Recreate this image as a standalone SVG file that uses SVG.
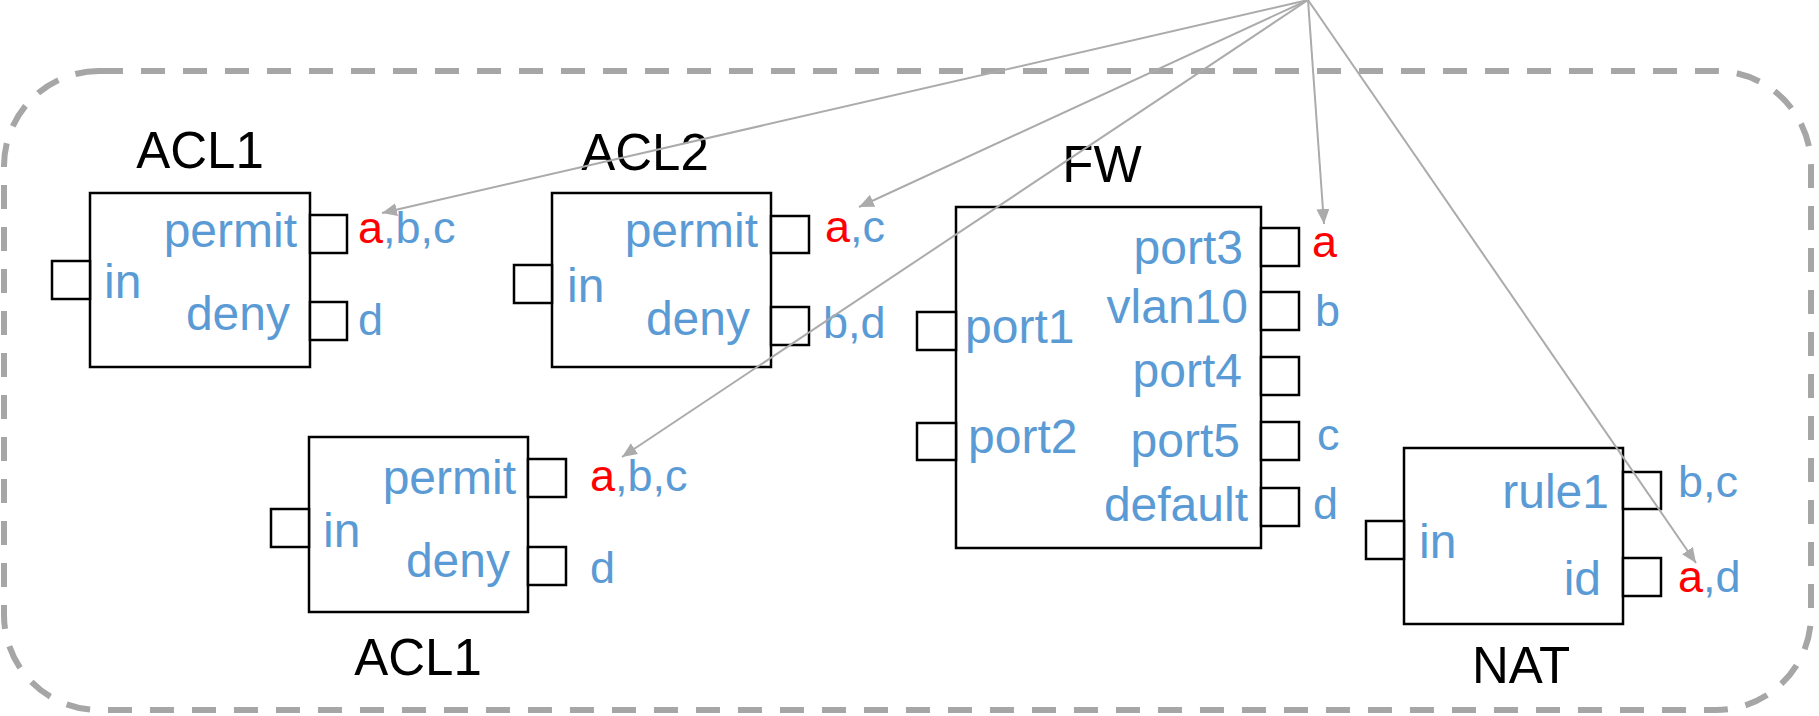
<svg xmlns="http://www.w3.org/2000/svg" width="1819" height="716" viewBox="0 0 1819 716">
  <style>
    text { font-family: "Liberation Sans", Arial, sans-serif; }
    .box { fill: #FFFFFF; stroke: #000000; stroke-width: 2.5; }
    .port { fill: #FFFFFF; stroke: #000000; stroke-width: 2.5; }
    .title { font-size: 51px; fill: #000000; text-anchor: middle; }
    .lbl { font-size: 48px; fill: #5B9BD5; }
    .end { text-anchor: end; }
    .set { font-size: 45px; fill: #5B9BD5; }
    .hit { fill: #FF0000; }
    .edge { fill: none; stroke: #ABABAB; stroke-width: 2; marker-end: url(#arrow); }
  </style>
  <defs>
    <marker id="arrow" markerUnits="userSpaceOnUse" markerWidth="16" markerHeight="14" refX="15" refY="6.5" orient="auto">
      <path d="M0,0 L15,6.5 L0,13 Z" fill="#ABABAB"/>
    </marker>
  </defs>

  <rect width="1819" height="716" fill="#FFFFFF"/>

  <!-- dashed enclosure -->
  <rect id="domain" x="4" y="71" width="1807" height="639" rx="95" ry="95" fill="none" stroke="#A6A6A6" stroke-width="6" stroke-dasharray="24 18"/>

  <g id="acl1-top">
    <text class="title" x="200" y="168">ACL1</text>
    <rect class="box" x="90" y="193" width="220" height="174"/>
    <rect class="port" x="52" y="261" width="38" height="38"/>
    <rect class="port" x="310" y="215" width="37" height="38"/>
    <rect class="port" x="310" y="302" width="37" height="38"/>
    <text class="lbl end" x="297" y="247">permit</text>
    <text class="lbl" x="104" y="298">in</text>
    <text class="lbl end" x="290" y="330">deny</text>
    <text class="set" x="358" y="243"><tspan class="hit">a</tspan>,b,c</text>
    <text class="set" x="358" y="335">d</text>
  </g>

  <g id="acl2">
    <text class="title" x="645" y="170">ACL2</text>
    <rect class="box" x="552" y="193" width="219" height="174"/>
    <rect class="port" x="514" y="265" width="38" height="38"/>
    <rect class="port" x="771" y="216" width="38" height="37"/>
    <rect class="port" x="771" y="307" width="38" height="38"/>
    <text class="lbl end" x="758" y="247">permit</text>
    <text class="lbl" x="567" y="302">in</text>
    <text class="lbl end" x="750" y="335">deny</text>
    <text class="set" x="825" y="242"><tspan class="hit">a</tspan>,c</text>
    <text class="set" x="823" y="338">b,d</text>
  </g>

  <g id="fw">
    <text class="title" x="1102" y="182">FW</text>
    <rect class="box" x="956" y="207" width="305" height="341"/>
    <rect class="port" x="917" y="312" width="39" height="38"/>
    <rect class="port" x="917" y="423" width="39" height="37"/>
    <rect class="port" x="1261" y="228" width="38" height="38"/>
    <rect class="port" x="1261" y="292" width="38" height="38"/>
    <rect class="port" x="1261" y="357" width="38" height="38"/>
    <rect class="port" x="1261" y="422" width="38" height="38"/>
    <rect class="port" x="1261" y="488" width="38" height="38"/>
    <text class="lbl end" x="1243" y="264">port3</text>
    <text class="lbl end" x="1248" y="323">vlan10</text>
    <text class="lbl end" x="1242" y="387">port4</text>
    <text class="lbl end" x="1240" y="457">port5</text>
    <text class="lbl end" x="1248" y="521">default</text>
    <text class="lbl" x="965" y="343">port1</text>
    <text class="lbl" x="968" y="453">port2</text>
    <text class="set hit" x="1312" y="257">a</text>
    <text class="set" x="1315" y="326">b</text>
    <text class="set" x="1317" y="450">c</text>
    <text class="set" x="1313" y="519">d</text>
  </g>

  <g id="acl1-bottom">
    <rect class="box" x="309" y="437" width="219" height="175"/>
    <rect class="port" x="271" y="509" width="38" height="38"/>
    <rect class="port" x="528" y="459" width="38" height="38"/>
    <rect class="port" x="528" y="547" width="38" height="38"/>
    <text class="lbl end" x="516" y="494">permit</text>
    <text class="lbl" x="323" y="547">in</text>
    <text class="lbl end" x="510" y="577">deny</text>
    <text class="set" x="590" y="491"><tspan class="hit">a</tspan>,b,c</text>
    <text class="set" x="590" y="583">d</text>
    <text class="title" x="418" y="675">ACL1</text>
  </g>

  <g id="nat">
    <rect class="box" x="1404" y="448" width="219" height="176"/>
    <rect class="port" x="1366" y="521" width="38" height="38"/>
    <rect class="port" x="1623" y="472" width="38" height="37"/>
    <rect class="port" x="1623" y="558" width="38" height="38"/>
    <text class="lbl end" x="1609" y="508">rule1</text>
    <text class="lbl" x="1419" y="558">in</text>
    <text class="lbl end" x="1601" y="595">id</text>
    <text class="set" x="1678" y="497">b,c</text>
    <text class="set" x="1678" y="592"><tspan class="hit">a</tspan>,d</text>
    <text class="title" x="1521" y="683">NAT</text>
  </g>

  <!-- connectors fanning out from one source point -->
  <g id="connectors">
    <line class="edge" x1="1308" y1="0" x2="382" y2="213"/>
    <line class="edge" x1="1308" y1="0" x2="859" y2="207"/>
    <line class="edge" x1="1308" y1="0" x2="622" y2="457"/>
    <line class="edge" x1="1308" y1="0" x2="1324" y2="224"/>
    <line class="edge" x1="1308" y1="0" x2="1696" y2="563"/>
  </g>
</svg>
